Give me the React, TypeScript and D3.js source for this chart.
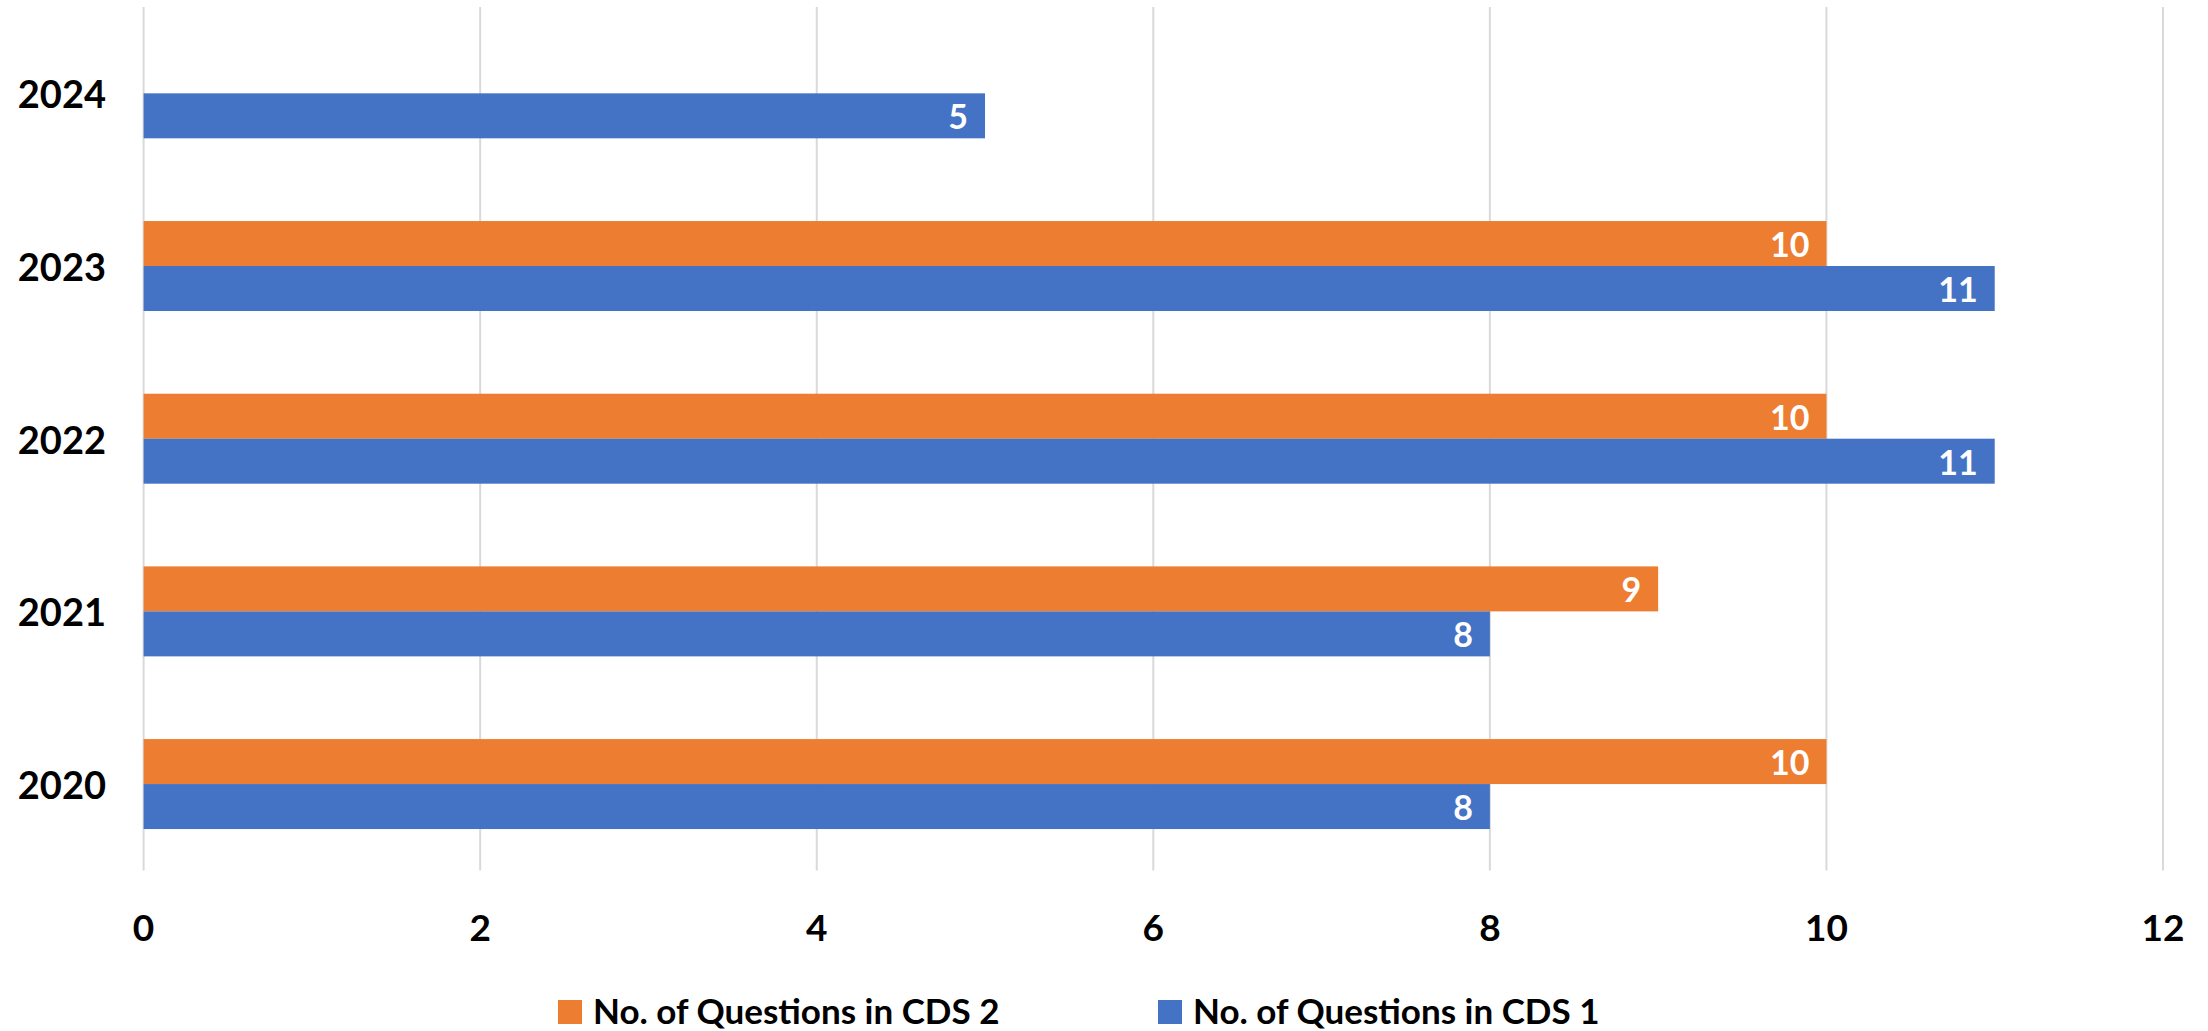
import React from "react";
import * as d3 from "d3";

const years = ["2024", "2023", "2022", "2021", "2020"];
const seriesNames = ["No. of Questions in CDS 2", "No. of Questions in CDS 1"];
const cds2Values: (number | null)[] = [null, 10, 10, 9, 10];
const cds1Values: (number | null)[] = [5, 11, 11, 8, 8];
const xTicks = [0, 2, 4, 6, 8, 10, 12];
const colors = ["#ED7D31", "#4472C4"];

const W = 2208;
const H = 1031;
const FONT = "Lato, 'Open Sans', sans-serif";

export default function App() {
  const x = d3.scaleLinear().domain([0, 12]).range([143.6, 2163]);
  const y = d3
    .scaleBand<string>()
    .domain(years)
    .range([7, 870.4])
    .paddingInner(0.479)
    .paddingOuter(0.2395);
  const sub = d3
    .scaleBand<string>()
    .domain(seriesNames)
    .range([0, y.bandwidth()]);
  const seriesValues = [cds2Values, cds1Values];
  const gridTop = 7;
  const gridBottom = 870.4;

  return (
    <svg
      width={W}
      height={H}
      style={{ position: "absolute", left: 0, top: 0, background: "#fff" }}
      fontFamily={FONT}
    >
      <rect x={0} y={0} width={W} height={H} fill="#fff" />
      {xTicks.map((t) => (
        <line
          key={"g" + t}
          x1={x(t)}
          x2={x(t)}
          y1={gridTop}
          y2={gridBottom}
          stroke="#d9d9d9"
          strokeWidth={2}
        />
      ))}
      {seriesNames.map((s, si) =>
        years.map((yr, i) => {
          const v = seriesValues[si][i];
          if (v == null) return null;
          const by = (y(yr) as number) + (sub(s) as number);
          return (
            <g key={s + yr}>
              <rect
                x={x(0)}
                y={by}
                width={x(v) - x(0)}
                height={sub.bandwidth()}
                fill={colors[si]}
              />
              <text
                x={x(v) - 17}
                y={by + sub.bandwidth() / 2}
                textAnchor="end"
                dominantBaseline="central"
                fill="#fff"
                fontWeight="bold"
                fontSize={34}
              >
                {v}
              </text>
            </g>
          );
        })
      )}
      {years.map((yr) => (
        <text
          key={"y" + yr}
          x={106}
          y={(y(yr) as number) + y.bandwidth() / 2}
          textAnchor="end"
          dominantBaseline="central"
          fontWeight="bold"
          fontSize={38}
          fill="#000"
        >
          {yr}
        </text>
      ))}
      {xTicks.map((t) => (
        <text
          key={"t" + t}
          x={x(t)}
          y={926}
          textAnchor="middle"
          dominantBaseline="central"
          fontWeight="bold"
          fontSize={37}
          fill="#000"
        >
          {t}
        </text>
      ))}
      {seriesNames.map((s, si) => {
        const lx = si === 0 ? 558 : 1158;
        return (
          <g key={"l" + s}>
            <rect x={lx} y={1000} width={24} height={24} fill={colors[si]} />
            <text
              x={lx + 35}
              y={1010}
              dominantBaseline="central"
              fontWeight="bold"
              fontSize={35}
              fill="#000"
            >
              {s}
            </text>
          </g>
        );
      })}
    </svg>
  );
}
